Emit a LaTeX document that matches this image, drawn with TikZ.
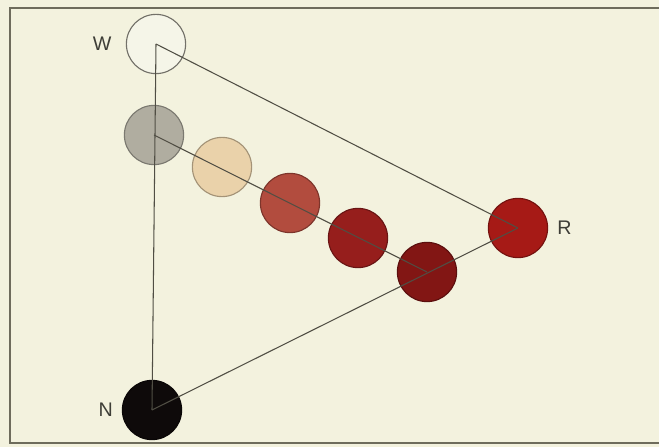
\documentclass[tikz,border=0pt]{standalone}
\usepackage{fontspec}
\setmainfont{Liberation Sans}
\usepackage{tikz}
\usetikzlibrary{positioning}
\definecolor{paper}{RGB}{243,242,222}
\definecolor{framegray}{RGB}{110,108,92}
\definecolor{linegray}{RGB}{80,78,68}
\definecolor{labelgray}{RGB}{62,62,55}
\definecolor{whitedot}{RGB}{245,245,232}
\definecolor{graydot}{RGB}{176,173,160}
\definecolor{beigedot}{RGB}{234,210,170}
\definecolor{browndot}{RGB}{178,76,62}
\definecolor{darkreddot}{RGB}{150,30,28}
\definecolor{deepreddot}{RGB}{130,22,20}
\definecolor{reddot}{RGB}{166,26,22}
\definecolor{blackdot}{RGB}{14,10,10}

\begin{document}
\begin{tikzpicture}[x=0.025cm, y=-0.025cm,
  dot/.style={circle, draw=#1!70!black, line width=0.8pt, fill=#1,
  minimum size=1.48cm, inner sep=0pt},
  tag/.style={font=\fontsize{14}{16}\selectfont, text=labelgray, inner sep=0pt},
  edge/.style={draw=linegray, line width=0.75pt}]
  \fill[paper] (0,0) rectangle (659,447);
  \useasboundingbox (0,0) rectangle (659,447);
  \draw[framegray, line width=1.1pt] (659,8) -- (10,8) -- (10,443) -- (659,443);
  % corners of the triangle
  \node[dot=whitedot, draw=linegray!80] (W) at (156,44) {};
  \node[dot=reddot] (R) at (518,228) {};
  \node[dot=blackdot] (N) at (152,410) {};
  % mixing row
  \node[dot=graydot] (G) at (154,135) {};
  \node[dot=beigedot] (M1) at (222,167) {};
  \node[dot=browndot] (M2) at (290,203) {};
  \node[dot=darkreddot] (M3) at (358,238) {};
  \node[dot=deepreddot] (M4) at (427,272) {};
  \node[tag, left=0.35cm of W] {W};
  \node[tag, right=0.22cm of R] {R};
  \node[tag, left=0.22cm of N] {N};
  \draw[edge] (W.center) -- (R.center);
  \draw[edge] (W.center) -- (N.center);
  \draw[edge] (N.center) -- (R.center);
  \draw[edge] (G.center) -- (M4.center);
\end{tikzpicture}
\end{document}
